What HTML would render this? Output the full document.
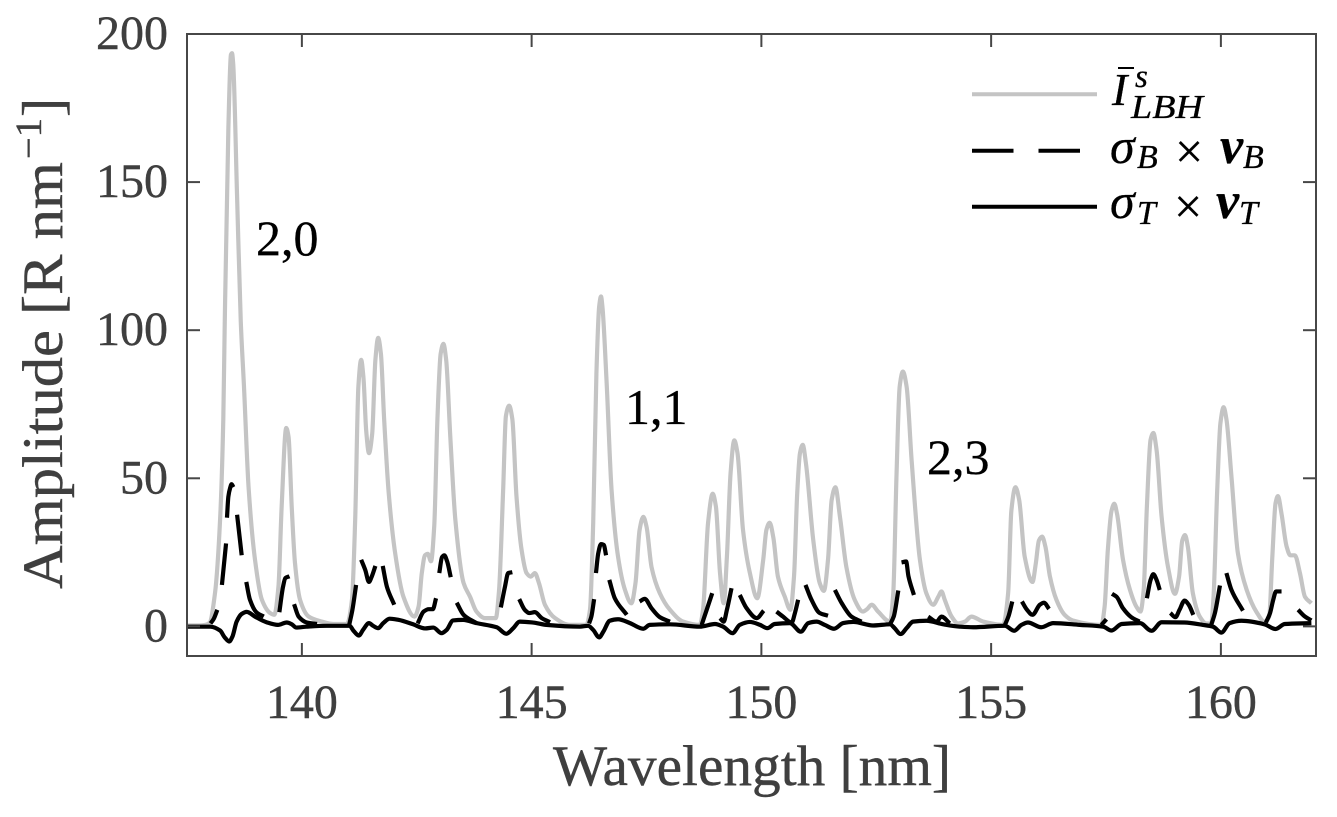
<!DOCTYPE html>
<html lang="en">
<head>
<meta charset="utf-8">
<title>LBH spectrum decomposition</title>
<style>
html,body{margin:0;padding:0;background:#fff;}
svg{display:block;}
text{font-family:"Liberation Serif",serif;}
.tick{font-size:48px;fill:#3f3f3f;stroke:#3f3f3f;stroke-width:.4px;}
.title{font-size:57px;fill:#3f3f3f;stroke:#3f3f3f;stroke-width:.4px;}
.note{font-size:50px;fill:#000;stroke:#000;stroke-width:.3px;}
.leg{fill:#000;stroke:#000;stroke-width:.3px;}
</style>
</head>
<body>
<svg id="chart" width="1337" height="817" viewBox="0 0 1337 817" xmlns="http://www.w3.org/2000/svg">
  <rect x="0" y="0" width="1337" height="817" fill="#fff"/>
  <g id="series" fill="none"></g>
  <g id="ticks"></g>
  <rect x="187" y="34" width="1129" height="622" fill="none" stroke="#474747" stroke-width="2"/>

  <text class="title" x="553" y="785" textLength="398" lengthAdjust="spacingAndGlyphs">Wavelength [nm]</text>
  <g transform="translate(62,589) rotate(-90)">
    <text class="title" x="0" y="0" textLength="427" lengthAdjust="spacingAndGlyphs">Amplitude [R nm</text>
    <text class="title" x="430" y="-21" style="font-size:37px" textLength="41" lengthAdjust="spacingAndGlyphs">−1</text>
    <text class="title" x="472" y="0">]</text>
  </g>

  <text class="note" x="256" y="255">2,0</text>
  <text class="note" x="625" y="424">1,1</text>
  <text class="note" x="927" y="474">2,3</text>

  <g>
    <line x1="972" y1="94.3" x2="1097" y2="94.3" stroke="#c4c4c4" stroke-width="4"/>
    <line x1="972" y1="150.7" x2="1097" y2="150.7" stroke="#000" stroke-width="4" stroke-dasharray="41.5 25"/>
    <line x1="972" y1="206.7" x2="1097" y2="206.7" stroke="#000" stroke-width="4"/>

    <g>
      <line x1="1118" y1="68" x2="1134" y2="68" stroke="#000" stroke-width="2"/>
      <text class="leg" x="1112" y="105" style="font-size:46px;font-style:italic">I</text>
      <text class="leg" x="1135" y="87" style="font-size:33px;font-style:italic">s</text>
      <text class="leg" x="1131" y="118" style="font-size:34px;font-style:italic" textLength="72" lengthAdjust="spacingAndGlyphs">LBH</text>
    </g>
    <g>
      <text class="leg" x="1110" y="163" style="font-size:50px;font-style:italic">σ</text>
      <text class="leg" x="1137" y="168" style="font-size:34px;font-style:italic">B</text>
      <text class="leg" x="1175" y="168" style="font-size:50px">×</text>
      <text class="leg" x="1220" y="163" style="font-size:52px;font-style:italic;font-weight:bold">v</text>
      <text class="leg" x="1243" y="168" style="font-size:34px;font-style:italic">B</text>
    </g>
    <g>
      <text class="leg" x="1110" y="218" style="font-size:50px;font-style:italic">σ</text>
      <text class="leg" x="1137" y="224" style="font-size:34px;font-style:italic">T</text>
      <text class="leg" x="1174" y="223" style="font-size:50px">×</text>
      <text class="leg" x="1216" y="218" style="font-size:52px;font-style:italic;font-weight:bold">v</text>
      <text class="leg" x="1239" y="224" style="font-size:34px;font-style:italic">T</text>
    </g>
  </g>
</svg>
<script>
const xTicks = [140, 145, 150, 155, 160];
const yTicks = [0, 50, 100, 150, 200];
const xDomain = [137.5, 162.07];
const yDomain = [-10, 200];

const lbhWavelength = [
137.5,137.78,137.89,137.99,138.11,138.22,138.29,138.32,138.40,138.455,138.48,138.505,138.59,138.67,138.74,138.84,138.98,139.13,139.31,139.40,
139.49,139.56,139.66,139.71,139.78,139.85,139.96,140.15,140.44,140.69,140.98,
141.09,141.16,141.23,141.29,141.34,141.40,141.46,141.53,141.60,141.66,141.72,141.79,141.89,142.03,142.21,142.45,
142.54,142.61,142.68,142.74,142.81,142.88,142.95,143.02,143.08,143.14,143.23,143.34,143.52,143.66,143.80,143.98,144.22,
144.29,144.38,144.44,144.51,144.58,144.67,144.78,144.89,144.98,145.07,145.16,145.29,145.51,145.83,146.19,
146.27,146.34,146.41,146.47,146.51,146.54,146.63,146.74,146.88,147.03,147.17,
147.26,147.35,147.43,147.50,147.61,147.79,148.01,148.30,148.66,
148.73,148.84,148.94,149.01,149.10,149.18,149.25,149.33,149.41,149.48,149.60,149.75,149.91,
150.04,150.11,150.18,150.26,150.36,150.51,150.63,
150.71,150.78,150.84,150.90,150.97,151.13,151.27,151.36,151.45,151.53,151.61,151.71,151.85,152.03,152.21,152.30,152.40,152.54,152.80,
152.87,152.94,153.01,153.08,153.16,153.27,153.45,153.59,153.74,153.85,153.92,153.99,154.14,154.28,154.43,154.57,154.83,155.26,
155.37,155.44,155.53,155.61,155.73,155.90,155.97,156.04,156.11,156.18,156.28,156.42,156.60,156.78,157.40,
157.47,157.54,157.62,157.68,157.74,157.87,158.02,158.16,158.25,
158.32,158.39,158.47,158.53,158.60,158.71,158.85,159.00,159.09,159.16,159.22,159.28,159.39,159.54,159.68,159.79,
159.84,159.92,159.99,160.06,160.12,160.23,160.37,160.56,160.77,160.95,
161.05,161.12,161.19,161.24,161.32,161.43,161.51,161.61,161.72,161.83,161.97
];
const lbhAmplitude = [
0.3,0.3,0.5,1.2,11.3,36,70,101,168,193,193.5,190,145,103,81,47,22.5,9,4.5,3.9,
13.4,40.5,67,64,40,21.4,9,3.3,1.6,0.8,0.8,
9,36,81,90,84,66,58.5,65,90,97.4,92,70,45,24.7,10,3.3,
6.7,18,24,24.5,22,33.7,70,92,95.4,90,64,36,14.6,10,5,2.8,2.8,
12,46,71,74.5,70,44,26,18,16.8,18,14.6,7.3,2.8,0.5,0.5,
5.6,35,85.5,108,111.4,108,83,46,23.6,12.4,7.8,
14.6,32.6,37,33.7,20,11.2,5.6,1.6,0.5,
5.6,35,44.8,40.5,18,7.8,23.6,51.8,62.8,58.5,32.6,18,9.5,
22.5,32.6,35,30,16.8,10,5.6,
16.8,45,58.5,61.3,55,29,14.6,12,22.5,42.7,47,37,20,9,5,5.8,7.3,5,1.6,
11.2,50.6,81,86,81,56,22.5,11.2,7.3,10,11.8,9,3.3,1,1.6,3.3,1.6,0.5,
11.2,39,47,42.7,23.6,15,21,29,30.3,27,16.8,9,3.9,2,0.5,
6.7,25.8,39,41.4,38,22.5,12.4,6.7,5,
12.4,40.5,63,65.3,59.6,37,20,11,16.8,29,30.8,27,11.2,3.3,1,1,
10,46,68.6,74,70,50.6,24.7,12.4,5,1.6,
3.3,23.6,41.6,44,38,27,24,24,18,10,7.8
];

const biasWavelength = [
138.01,138.08,138.16,null,
138.26,138.35,null,
138.37,138.40,138.44,138.47,138.51,null,
138.59,138.69,null,
138.79,138.87,139.02,139.17,null,
139.51,139.59,139.64,139.73,null,
139.83,139.93,140.11,140.33,null,
141.03,141.10,141.18,null,
141.29,141.38,141.46,141.52,141.60,null,
141.76,141.85,142.01,null,
142.52,142.65,142.76,142.85,142.92,null,
142.99,143.05,143.10,143.16,143.24,null,
143.37,143.52,143.81,null,
144.33,144.42,144.49,144.58,null,
144.73,144.85,144.95,145.07,145.22,145.40,null,
146.25,146.30,146.36,null,
146.40,146.45,146.51,146.57,146.62,null,
146.69,146.81,147.07,null,
147.35,147.46,147.61,147.79,148.01,null,
148.70,148.81,148.93,null,
149.10,149.18,149.25,149.35,null,
149.53,149.68,149.90,150.05,null,
150.33,150.47,150.66,150.73,150.80,null,
150.96,151.09,151.27,151.45,null,
151.60,151.75,151.96,152.18,null,
152.79,152.88,152.98,null,
153.05,153.15,153.20,153.32,null,
153.63,153.81,153.92,154.10,null,
155.30,155.38,155.46,null,
155.67,155.78,155.90,156.06,156.15,156.26,null,
157.40,157.51,null,
157.63,157.73,157.87,158.05,158.23,null,
158.39,158.47,158.53,158.60,158.67,null,
158.90,159.01,159.10,159.21,159.30,159.40,null,
159.79,159.87,159.98,null,
160.12,160.23,160.48,null,
160.98,161.07,161.14,161.20,161.32,null,
161.68,161.83,161.97
];
const biasAmplitude = [
1,2.5,5.6,null,
14,28,null,
36.7,43.8,46.8,48,47,null,
37.7,24,null,
15,9,4.6,3.3,null,
4.8,13.4,16.3,16.9,null,
7.5,3.3,1.3,0.8,null,
0.5,5.6,14,null,
22.5,19,15,16.8,20.4,null,
20.4,13.4,7.3,null,
1,5,5.8,5.8,9.5,null,
18,23.4,24,22,16.6,null,
8,3.9,1,null,
6.4,13.4,18,18.3,null,
9.2,5.6,4.5,4.8,2.8,1.4,null,
1,3.3,9.2,null,
18,24.7,27.8,27.5,24,null,
15.7,9.5,3.9,null,
8.4,9.3,6.1,3.1,1.6,null,
0.5,5.6,11.2,null,
2.8,1.6,5.6,12.9,null,
10.6,6.1,2.8,5.3,null,
5,3.3,1.3,4.5,9,null,
14,9,4.5,3.6,null,
12.3,7.8,3.3,1.6,null,
0.5,3.3,12.1,null,
21.6,21.9,17,10.6,null,
3.3,1.6,3.3,1,null,
0.5,3.5,8.4,null,
8.4,5.6,3.9,7.3,8,5.9,null,
0.5,2.4,null,
11,10,6.1,3.1,1.6,null,
9.5,15.7,17.6,15.7,12.3,null,
4.5,3.1,5.6,8.7,7.3,3.9,null,
0.5,4.5,13.8,null,
18,12.3,5.3,null,
1.3,4.5,9,11.8,11.8,null,
5.6,3.3,2
];

const thermalWavelength = [
137.5,138.01,138.22,138.32,138.42,138.49,138.58,138.69,138.80,138.98,139.23,139.48,139.67,139.78,139.88,140.10,140.54,141.04,
141.12,141.24,141.33,141.46,141.55,141.66,141.77,141.91,142.10,142.42,142.68,142.86,143.04,143.15,143.29,143.51,143.80,144.24,
144.45,144.60,144.74,145.03,145.32,146.05,146.23,146.34,146.47,146.56,146.70,146.88,147.14,147.43,147.57,148.01,148.66,
148.99,149.17,149.37,149.53,149.75,149.97,150.13,150.29,150.62,150.86,151.02,151.20,151.38,151.58,151.78,152.00,152.43,152.80,
152.90,153.03,153.16,153.30,153.59,153.96,154.32,154.61,155.30,155.50,155.66,155.80,156.09,156.35,156.93,157.44,
157.62,157.84,158.24,158.49,158.71,159.21,159.61,159.83,160.01,160.19,160.45,160.95,161.19,161.39,161.97
];
const thermalAmplitude = [
-0.1,-0.1,-1.4,-3.7,-5.1,-3.4,1.6,4.2,4.9,3.3,1.4,0.5,1.3,0.7,-0.4,-0.1,0.2,0.2,
-1.4,-3.1,-1.2,1.1,0.2,-0.6,1.1,2.6,2.2,0.7,-0.7,-0.4,-2.3,-1.2,2,2.2,1.1,-0.3,
-2.5,-0.6,1.6,1.3,0.5,-0.1,0.2,-1.2,-3.7,-1.8,1.9,2.4,1.1,-0.8,0.5,0.7,-0.1,
0.8,-0.1,-2.3,0.5,1.5,0.5,-0.6,0.8,1.1,-1.8,1.1,1.6,0.5,-0.8,1.1,1.5,0.3,0.7,
-0.6,-2.6,-0.6,1.6,1.9,0.7,-0.1,-0.3,0.2,-1.5,0.5,1.3,-0.3,1.1,0.5,-0.1,
-1.4,0.8,1.1,-1.5,1.4,1.3,0.5,-0.1,-2.1,1.1,1.9,0.7,-0.9,0.8,1.1
];

const xScale = v => 187 + (v - xDomain[0]) / (xDomain[1] - xDomain[0]) * 1129;
const yScale = v => 656 - (v - yDomain[0]) / (yDomain[1] - yDomain[0]) * 622;
const NS = 'http://www.w3.org/2000/svg';

function monotonePath(pts) {
  const n = pts.length;
  if (n < 2) return '';
  if (n === 2) return 'M' + pts[0].join(' ') + 'L' + pts[1].join(' ');
  const dx = [], m = [], t = new Array(n);
  for (let i = 0; i < n - 1; i++) {
    dx[i] = pts[i + 1][0] - pts[i][0];
    m[i] = (pts[i + 1][1] - pts[i][1]) / dx[i];
  }
  t[0] = m[0];
  t[n - 1] = m[n - 2];
  for (let i = 1; i < n - 1; i++) {
    if (m[i - 1] * m[i] <= 0) { t[i] = 0; continue; }
    const w1 = 2 * dx[i] + dx[i - 1], w2 = dx[i] + 2 * dx[i - 1];
    t[i] = (w1 + w2) / (w1 / m[i - 1] + w2 / m[i]);
  }
  let d = 'M' + pts[0][0].toFixed(2) + ' ' + pts[0][1].toFixed(2);
  for (let i = 0; i < n - 1; i++) {
    const h = dx[i] / 3;
    d += 'C' + (pts[i][0] + h).toFixed(2) + ' ' + (pts[i][1] + t[i] * h).toFixed(2) + ' ' +
      (pts[i + 1][0] - h).toFixed(2) + ' ' + (pts[i + 1][1] - t[i + 1] * h).toFixed(2) + ' ' +
      pts[i + 1][0].toFixed(2) + ' ' + pts[i + 1][1].toFixed(2);
  }
  return d;
}

function seriesPath(xs, ys) {
  let d = '', run = [];
  for (let i = 0; i <= xs.length; i++) {
    if (i === xs.length || xs[i] === null || ys[i] === null) {
      d += monotonePath(run);
      run = [];
    } else {
      run.push([xScale(xs[i]), yScale(ys[i])]);
    }
  }
  return d;
}

const seriesGroup = document.getElementById('series');
const tickGroup = document.getElementById('ticks');

const lbhLine = document.createElementNS(NS, 'path');


lbhLine.setAttribute('d', seriesPath(lbhWavelength, lbhAmplitude));
lbhLine.setAttribute('stroke', '#c4c4c4');
lbhLine.setAttribute('stroke-width', '4.2');
seriesGroup.appendChild(lbhLine);

const biasLine = document.createElementNS(NS, 'path');


biasLine.setAttribute('d', seriesPath(biasWavelength, biasAmplitude));
biasLine.setAttribute('stroke', '#000');
biasLine.setAttribute('stroke-width', '4.2');
seriesGroup.appendChild(biasLine);

const thermalLine = document.createElementNS(NS, 'path');


thermalLine.setAttribute('d', seriesPath(thermalWavelength, thermalAmplitude));
thermalLine.setAttribute('stroke', '#000');
thermalLine.setAttribute('stroke-width', '4.2');
seriesGroup.appendChild(thermalLine);

function addTickLine(x1, y1, x2, y2) {
  const tick = document.createElementNS(NS, 'line');
  
  
  tick.setAttribute('x1', x1);
  tick.setAttribute('y1', y1);
  tick.setAttribute('x2', x2);
  tick.setAttribute('y2', y2);
  tick.setAttribute('stroke', '#474747');
  tick.setAttribute('stroke-width', '2');
  tickGroup.appendChild(tick);
}

xTicks.forEach(v => {
  const x = xScale(v);
  addTickLine(x, 656, x, 643);
  addTickLine(x, 34, x, 47);
  const label = document.createElementNS(NS, 'text');
  
  
  label.setAttribute('class', 'tick');
  label.setAttribute('x', x);
  label.setAttribute('y', 718);
  label.setAttribute('text-anchor', 'middle');
  label.textContent = v;
  tickGroup.appendChild(label);
});

yTicks.forEach(v => {
  const y = yScale(v);
  addTickLine(187, y, 200, y);
  addTickLine(1316, y, 1303, y);
  const label = document.createElementNS(NS, 'text');
  
  
  label.setAttribute('class', 'tick');
  label.setAttribute('x', 168);
  label.setAttribute('y', y + 15);
  label.setAttribute('text-anchor', 'end');
  label.textContent = v;
  tickGroup.appendChild(label);
});
</script>
</body>
</html>
